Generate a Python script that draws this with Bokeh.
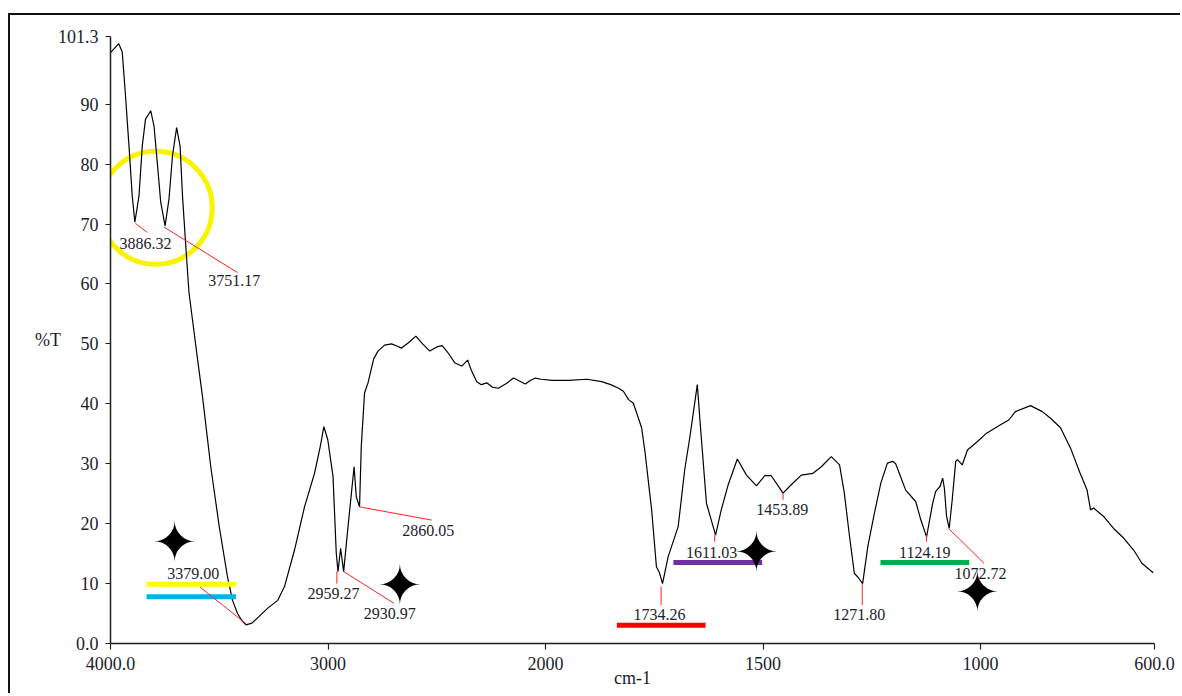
from bokeh.plotting import figure
from bokeh.models import Range1d, FixedTicker
from bokeh.core.properties import value
from bokeh.embed import file_html
from bokeh.resources import INLINE

# ---------------- data ----------------
wavenumber = [4000, 3985, 3962, 3946, 3931, 3915, 3900, 3888, 3869, 3854, 3839, 3815, 3800,
              3785, 3769, 3749, 3731, 3715, 3696, 3680, 3669, 3654, 3639, 3619, 3600, 3577,
              3539, 3500, 3462, 3439, 3416, 3395, 3377, 3350, 3320, 3277, 3231, 3200, 3154,
              3108, 3062, 3035, 3019, 3001, 2977, 2962, 2954, 2942, 2928, 2908, 2880, 2870,
              2855, 2847, 2832, 2816, 2790, 2770, 2740, 2708, 2680, 2662, 2630, 2596, 2565,
              2532, 2500, 2475, 2450, 2416, 2385, 2358, 2340, 2316, 2295, 2270, 2245, 2216,
              2180, 2147, 2120, 2093, 2070, 2047, 2020, 1985, 1947, 1905, 1871, 1850, 1832,
              1821, 1809, 1798, 1779, 1771, 1756, 1745, 1738, 1731, 1718, 1695, 1680, 1668,
              1651, 1645, 1630, 1609, 1596, 1580, 1559, 1538, 1515, 1496, 1481, 1454, 1435,
              1412, 1385, 1366, 1343, 1324, 1313, 1302, 1290, 1282, 1271, 1259, 1244, 1229,
              1214, 1202, 1195, 1172, 1149, 1137, 1124, 1110, 1103, 1093, 1087, 1083, 1078,
              1072, 1065, 1057, 1053, 1042, 1030, 1007, 986, 954, 935, 920, 885, 858, 839,
              816, 793, 771, 755, 747, 740, 717, 694, 671, 648, 629, 603]
transmittance = [98.6, 99.2, 100.1, 98.7, 91.4, 83.0, 74.7, 70.3, 74.7, 83.0, 87.5, 88.9, 86.4,
                 80.3, 73.6, 69.7, 74.2, 81.4, 86.1, 83.0, 74.7, 66.4, 58.5, 52.9, 47.5, 41.2,
                 29.5, 19.5, 11.1, 7.2, 5.0, 3.8, 3.1, 3.4, 4.4, 5.9, 7.2, 9.5, 15.6,
                 22.8, 28.4, 33.0, 36.2, 34.0, 27.9, 15.1, 12.0, 15.9, 12.0, 19.5, 29.5, 24.5,
                 22.8, 32.9, 41.8, 43.5, 47.5, 48.8, 49.8, 50.0, 49.6, 49.3, 50.2, 51.3, 50.0,
                 48.8, 49.5, 49.7, 48.6, 46.8, 46.3, 47.3, 45.5, 43.7, 43.2, 43.5, 42.8, 42.6,
                 43.4, 44.3, 43.8, 43.3, 43.9, 44.3, 44.1, 43.9, 43.9, 44.1, 43.7, 43.2, 42.6,
                 42.1, 40.7, 40.1, 36.0, 31.8, 22.3, 12.8, 11.8, 10.0, 14.5, 19.5, 29.0, 34.5,
                 43.2, 37.3, 23.4, 18.1, 22.3, 26.5, 30.8, 28.1, 26.3, 28.0, 28.0, 25.1, 26.5,
                 28.1, 28.4, 29.5, 31.2, 29.8, 25.1, 18.4, 11.7, 11.1, 10.0, 16.2, 21.7, 26.8,
                 30.1, 30.4, 30.0, 25.6, 23.7, 20.6, 17.8, 23.4, 25.4, 26.2, 27.6, 25.9, 21.2,
                 19.2, 24.0, 30.4, 30.7, 29.8, 32.3, 33.7, 35.1, 36.5, 37.3, 38.7, 39.7, 38.7,
                 37.6, 36.0, 32.6, 28.4, 25.6, 22.3, 22.6, 21.2, 19.2, 17.6, 15.6, 13.4, 11.8]

x_tick_values = [4000, 3000, 2000, 1500, 1000, 600]
x_tick_labels = ["4000.0", "3000", "2000", "1500", "1000", "600.0"]
y_tick_values = [0, 10, 20, 30, 40, 50, 60, 70, 80, 90, 101.3]
y_tick_labels = ["0.0", "10", "20", "30", "40", "50", "60", "70", "80", "90", "101.3"]
x_title = "cm-1"
y_title = "%T"

peak_labels = ["3886.32", "3751.17", "3379.00", "2959.27", "2930.97", "2860.05",
               "1734.26", "1611.03", "1453.89", "1271.80", "1124.19", "1072.72"]
leader_start_wn = [3885, 3754, 3377, 2959.27, 2928, 2855, 1734.26, 1611.03, 1453.89, 1271.80, 1124.19, 1072]
leader_start_T = [70.1, 69.5, 3.3, 12.0, 12.0, 22.8, 9.5, 18.1, 25.1, 10.0, 18.1, 19.1]
leader_end_wn = [3831, 3416, 3588, 2959.27, 2696, 2524, 1734.26, 1611.03, 1453.89, 1271.80, 1124.19, 992]
leader_end_T = [68.6, 61.9, 9.4, 10.0, 6.7, 20.6, 6.4, 17.0, 24.0, 6.4, 17.0, 13.4]
label_wn = [3839, 3431, 3619, 2975, 2716, 2539, 1738, 1618, 1456, 1279, 1128, 1000]
label_T = [66.7, 60.5, 11.7, 8.4, 5.0, 18.9, 4.9, 15.2, 22.3, 4.9, 15.2, 11.7]

band_start_wn = [3834, 3834, 1836, 1706, 1230]
band_end_wn = [3423, 3423, 1632, 1502, 1026]
band_T = [9.9, 7.8, 3.06, 13.5, 13.5]
band_colors = ["#ffff00", "#00b0f0", "#ff0000", "#7030a0", "#00b050"]

star_wn = [3705, 2670, 1515, 1007]
star_T = [16.8, 9.6, 15.2, 8.5]

circle_wn = [3792]
circle_T = [72.7]


# the x axis is compressed by half above 2000 cm-1
def axis_pos(w):
    return w if w <= 2000 else 2000 + (w - 2000) / 2.0


def pos_list(ws):
    return [axis_pos(w) for w in ws]


FONT = "Liberation Serif"
TXT = "#1c1c2c"

p = figure(width=1172, height=680,
           x_range=Range1d(axis_pos(4000), axis_pos(600)),
           y_range=Range1d(0, 101.3),
           output_backend="svg", toolbar_location=None,
           min_border_left=100, min_border_right=28,
           min_border_top=21, min_border_bottom=52)
p.margin = (13, 0, 0, 8)
p.styles = {"border-left": "2px solid #111111", "border-top": "2px solid #111111"}
p.outline_line_color = None
p.xgrid.visible = False
p.ygrid.visible = False
p.background_fill_color = "white"
p.border_fill_color = "white"

# axes
p.xaxis.ticker = FixedTicker(ticks=pos_list(x_tick_values))
p.xaxis.major_label_overrides = {axis_pos(w): lab for w, lab in zip(x_tick_values, x_tick_labels)}
p.yaxis.ticker = FixedTicker(ticks=y_tick_values)
p.yaxis.major_label_overrides = {v: lab for v, lab in zip(y_tick_values, y_tick_labels)}
for ax in (p.xaxis[0], p.yaxis[0]):
    ax.axis_line_color = "#202020"
    ax.axis_line_width = 1.5
    ax.major_tick_line_color = "#202020"
    ax.major_tick_line_width = 1.2
    ax.major_tick_in = 0
    ax.minor_tick_out = 0
    ax.minor_tick_in = 0
    ax.major_label_text_font = FONT
    ax.major_label_text_font_size = "18px"
    ax.major_label_text_color = TXT
    ax.major_label_standoff = 7
    ax.axis_label_text_font = FONT
    ax.axis_label_text_font_size = "18px"
    ax.axis_label_text_font_style = "normal"
    ax.axis_label_text_color = TXT
p.xaxis.major_tick_out = 6
p.yaxis.major_tick_out = 5

p.xaxis.axis_label = x_title
p.xaxis.axis_label_standoff = -5
p.yaxis.axis_label = y_title
if "axis_label_orientation" in p.yaxis[0].properties():
    p.yaxis.axis_label_orientation = "horizontal"
p.yaxis.axis_label_standoff = -6

# yellow circle highlight
p.scatter(pos_list(circle_wn), circle_T, marker="circle", size=113,
          fill_color=None, line_color="#f8f400", line_width=5)

# spectrum
p.line(pos_list(wavenumber), transmittance, line_color="#000000", line_width=1.2)

# coloured bands
p.segment(pos_list(band_start_wn), band_T, pos_list(band_end_wn), band_T,
          line_color=band_colors, line_width=5, line_cap="butt")

# peak leader lines and labels
p.segment(pos_list(leader_start_wn), leader_start_T, pos_list(leader_end_wn), leader_end_T,
          line_color="#ff2020", line_width=1)
p.text(pos_list(label_wn), label_T, text=peak_labels, text_font=value(FONT),
       text_font_size="16px", text_color=TXT, text_align="center", text_baseline="middle")

# four-pointed stars
p.text(pos_list(star_wn), star_T, text=["\u2726"] * len(star_wn), text_font=value("DejaVu Sans"),
       text_font_size="54px", text_color="#000000", text_align="center", text_baseline="middle")

open("out.html", "w").write(file_html(p, INLINE))
